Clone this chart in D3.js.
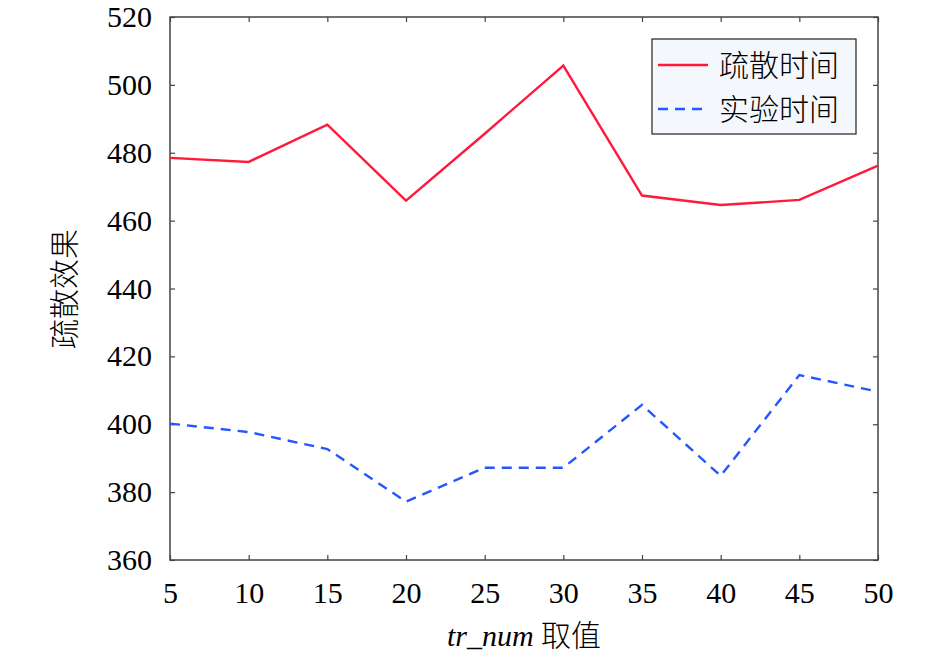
<!DOCTYPE html>
<html lang="zh">
<head>
  <meta charset="UTF-8">
  <title>疏散效果</title>
  <style>
    body { margin: 0; background: #fff; }
    svg { display: block; }
  </style>
  <script src="https://d3js.org/d3.v7.min.js"></script>
</head>
<body>
<svg width="945" height="659"></svg>
<script>
  // tr_num values on the x axis
  const trNum = [5, 10, 15, 20, 25, 30, 35, 40, 45, 50];
  // 疏散时间 (solid red)
  const evacTime = [478.5, 477.3, 488.3, 465.9, 485.6, 505.7, 467.4, 464.6, 466.1, 476.2];
  // 实验时间 (dashed blue)
  const expTime = [400.2, 397.7, 392.7, 377.2, 387.2, 387.2, 405.7, 384.8, 414.5, 409.6];
  const yTicks = [360, 380, 400, 420, 440, 460, 480, 500, 520];
  const seriesNames = ["疏散时间", "实验时间"];

  const serif = "Liberation Serif";
  const cjk = "Noto Sans CJK SC";

  const svg = d3.select("svg");
  const plotL = 170, plotR = 878, plotT = 17, plotB = 560;

  const x = d3.scaleLinear().domain([5, 50]).range([plotL, plotR]);
  const y = d3.scaleLinear().domain([360, 520]).range([plotB, plotT]);

  // frame
  svg.append("rect")
    .attr("x", plotL).attr("y", plotT)
    .attr("width", plotR - plotL).attr("height", plotB - plotT)
    .attr("fill", "none").attr("stroke", "#444").attr("stroke-width", 1.5);

  // axes with inward ticks
  const xAxis = svg.append("g").attr("transform", `translate(0,${plotB})`)
    .call(d3.axisBottom(x).tickValues(trNum).tickSize(-5).tickPadding(16));
  svg.append("g").attr("transform", `translate(0,${plotT})`)
    .call(d3.axisTop(x).tickValues(trNum).tickSize(-5).tickFormat(""));
  const yAxis = svg.append("g").attr("transform", `translate(${plotL},0)`)
    .call(d3.axisLeft(y).tickValues(yTicks).tickSize(-5).tickPadding(18));
  svg.append("g").attr("transform", `translate(${plotR},0)`)
    .call(d3.axisRight(y).tickValues(yTicks).tickSize(-5).tickFormat(""));

  svg.selectAll(".domain").remove();
  svg.selectAll(".tick line").attr("stroke", "#444").attr("stroke-width", 1.2);
  [xAxis, yAxis].forEach(g => g.attr("font-family", serif).attr("font-size", 30));
  svg.selectAll(".tick text").attr("fill", "#000");
  xAxis.selectAll(".tick text").attr("dy", "0.9em");

  const line = d3.line().x((d, i) => x(trNum[i])).y(d => y(d));

  svg.append("path")
    .datum(evacTime)
    .attr("d", line)
    .attr("fill", "none")
    .attr("stroke", "#ff1a3c")
    .attr("stroke-width", 2.4);

  svg.append("path")
    .datum(expTime)
    .attr("d", line)
    .attr("fill", "none")
    .attr("stroke", "#2457ff")
    .attr("stroke-width", 2.4)
    .attr("stroke-dasharray", "10,7");

  // legend
  const lg = svg.append("g");
  lg.append("rect")
    .attr("x", 652).attr("y", 39).attr("width", 204).attr("height", 95)
    .attr("fill", "#f4f8fc").attr("stroke", "#222").attr("stroke-width", 1.2);
  const legendItems = [
    { name: seriesNames[0], color: "#ff1a3c", dash: null, y: 65 },
    { name: seriesNames[1], color: "#2457ff", dash: "10,7", y: 109 }
  ];
  legendItems.forEach(d => {
    lg.append("line")
      .attr("x1", 658).attr("x2", 708).attr("y1", d.y).attr("y2", d.y)
      .attr("stroke", d.color).attr("stroke-width", 2.4)
      .attr("stroke-dasharray", d.dash);
    lg.append("text")
      .attr("x", 719).attr("y", d.y).attr("dy", "0.36em")
      .attr("font-family", cjk)
      .attr("font-size", 30)
      .attr("font-weight", 300)
      .text(d.name);
  });

  // axis titles
  const xt = svg.append("text")
    .attr("x", (plotL + plotR) / 2).attr("y", 646)
    .attr("text-anchor", "middle")
    .attr("font-size", 30);
  xt.append("tspan")
    .attr("font-family", serif)
    .attr("font-style", "italic")
    .text("tr_num ");
  xt.append("tspan")
    .attr("font-family", cjk)
    .attr("font-weight", 300)
    .text("取值");

  svg.append("text")
    .attr("transform", "translate(64,289) rotate(-90)")
    .attr("text-anchor", "middle")
    .attr("dy", "0.36em")
    .attr("font-family", cjk)
    .attr("font-weight", 300)
    .attr("font-size", 30)
    .text("疏散效果");
</script>
</body>
</html>
